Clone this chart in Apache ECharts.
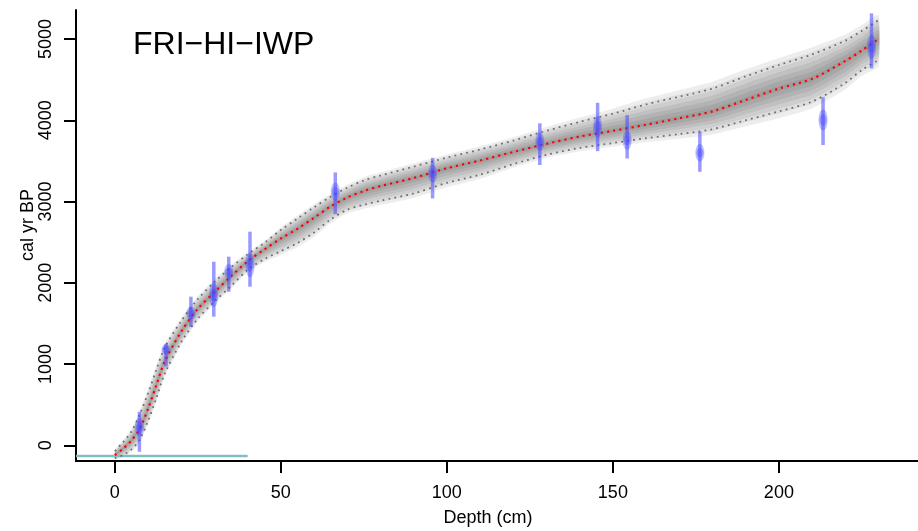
<!DOCTYPE html>
<html>
<head>
<meta charset="utf-8">
<script src="https://cdn.jsdelivr.net/npm/echarts@6/dist/echarts.min.js"></script>
<style>
  html, body { margin: 0; padding: 0; background: #fff; }
  #chart { width: 918px; height: 531px; }
</style>
</head>
<body>
<div id="chart"></div>
<script>
// age-depth model
var depths = [0, 2.5, 5, 7.5, 10, 12.5, 15, 20, 25, 30, 35, 40, 45, 50, 55, 60, 65, 70, 75, 80,
  90, 100, 110, 120, 130, 140, 150, 160, 170, 180, 190, 200, 210, 220, 225, 230];
var meanAge = [-120, -40, 60, 205, 450, 740, 1030, 1400, 1680, 1885, 2080, 2265, 2410, 2545, 2665, 2800, 2940, 3050, 3130, 3190,
  3290, 3410, 3505, 3610, 3710, 3800, 3870, 3945, 4025, 4110, 4250, 4390, 4510, 4730, 4860, 5000];
var upperAge = [-70, 40, 170, 380, 640, 930, 1200, 1530, 1800, 2010, 2190, 2350, 2490, 2650, 2790, 2930, 3060, 3170, 3260, 3320,
  3430, 3540, 3640, 3750, 3870, 3980, 4080, 4195, 4290, 4390, 4540, 4680, 4810, 4980, 5100, 5230];
var lowerAge = [-160, -120, -50, 70, 300, 580, 880, 1270, 1560, 1770, 1960, 2160, 2290, 2390, 2490, 2620, 2780, 2900, 2960, 3010,
  3100, 3230, 3330, 3460, 3575, 3660, 3720, 3780, 3830, 3890, 4000, 4110, 4230, 4460, 4620, 4740];

// calibrated dates
var dateDepth = [7.4, 15.4, 22.9, 29.8, 34.3, 40.7, 66.4, 95.7, 128, 145.4, 154.3, 176.2, 213.3, 227.9];
var dateAge = [225, 1180, 1624, 1850, 2136, 2217, 3120, 3345, 3736, 3920, 3755, 3600, 4003, 4905];
var dateMin = [-79, 970, 1459, 1583, 1890, 1952, 2845, 3038, 3450, 3620, 3530, 3366, 3695, 4638];
var dateMax = [413, 1250, 1829, 2259, 2321, 2629, 3358, 3538, 3963, 4215, 4063, 3858, 4283, 5315];

// surface line
var topLine = [[-11.7, -130], [40, -130]];

var xTicks = [0, 50, 100, 150, 200];
var yTicks = [0, 1000, 2000, 3000, 4000, 5000];
var bandK = [1.3, 1.1, 0.9, 0.7, 0.5, 0.3, 0.12];

var font = 'Liberation Sans, Arial, Helvetica, sans-serif';
var chart = echarts.init(document.getElementById('chart'));

function pairs(ys) {
  return depths.map(function (d, i) { return [d, ys[i]]; });
}

var series = [];

// grey shading, several nested bands
series.push({
  type: 'custom',
  clip: true,
  silent: true,
  data: bandK.map(function (k) { return [0, 0, k]; }),
  renderItem: function (params, api) {
    var k = bandK[params.dataIndex];
    var top = [], bot = [];
    depths.forEach(function (d, i) {
      var m = meanAge[i];
      top.push(api.coord([d, m + k * (upperAge[i] - m)]));
      bot.push(api.coord([d, m - k * (m - lowerAge[i])]));
    });
    return {
      type: 'polygon',
      shape: { points: top.concat(bot.reverse()), smooth: 0.15 },
      style: { fill: 'rgba(0,0,0,0.07)' }
    };
  },
  z: 1
});

series.push({
  type: 'line', data: pairs(upperAge), symbol: 'none', smooth: 0.3, silent: true,
  lineStyle: { color: '#6e6e6e', width: 1.8, type: [1.8, 4.2] }, z: 3
});
series.push({
  type: 'line', data: pairs(lowerAge), symbol: 'none', smooth: 0.3, silent: true,
  lineStyle: { color: '#6e6e6e', width: 1.8, type: [1.8, 4.2] }, z: 3
});
series.push({
  type: 'line', data: pairs(meanAge), symbol: 'none', smooth: 0.3, silent: true,
  lineStyle: { color: '#ff0000', width: 2.2, type: [2.2, 4] }, z: 4
});

series.push({
  type: 'line', data: topLine, symbol: 'none', silent: true,
  lineStyle: { color: '#7fbfbf', width: 2.5 }, z: 2
});

// dates: vertical range plus a blob at the centre
series.push({
  type: 'custom',
  clip: true,
  silent: true,
  data: dateDepth.map(function (d, i) { return [d, dateAge[i], dateMin[i], dateMax[i]]; }),
  renderItem: function (params, api) {
    var c = api.coord([api.value(0), api.value(1)]);
    var lo = api.coord([api.value(0), api.value(2)]);
    var hi = api.coord([api.value(0), api.value(3)]);
    var span = lo[1] - hi[1];
    var col = 'rgba(70,70,255,0.55)';
    return {
      type: 'group',
      children: [
        { type: 'line', shape: { x1: c[0], y1: hi[1], x2: c[0], y2: lo[1] },
          style: { stroke: col, lineWidth: 3.5 } },
        { type: 'ellipse', shape: { cx: c[0], cy: c[1], rx: 4.5, ry: Math.max(5, span * 0.22) },
          style: { fill: 'rgba(70,70,255,0.35)' } },
        { type: 'ellipse', shape: { cx: c[0], cy: c[1], rx: 3.5, ry: Math.max(4, span * 0.12) },
          style: { fill: 'rgba(70,70,255,0.35)' } }
      ]
    };
  },
  z: 5
});

chart.setOption({
  animation: false,
  grid: { left: 76, right: 0, top: 10, bottom: 70, outerBoundsMode: 'none' },
  xAxis: {
    type: 'value', min: -11.7, max: 241.9,
    axisLine: { show: true, onZero: false, lineStyle: { color: '#000', width: 2 } },
    axisTick: { show: true, length: 12, customValues: xTicks, lineStyle: { color: '#000', width: 2 } },
    axisLabel: { customValues: xTicks, fontSize: 18, color: '#000', fontFamily: font, margin: 23 },
    splitLine: { show: false }
  },
  yAxis: {
    type: 'value', min: -193, max: 5357,
    axisLine: { show: true, onZero: false, lineStyle: { color: '#000', width: 2 } },
    axisTick: { show: true, length: 12, customValues: yTicks, lineStyle: { color: '#000', width: 2 } },
    axisLabel: { customValues: yTicks, fontSize: 18, color: '#000', fontFamily: font, rotate: 90, margin: 21,
      formatter: function (v) { return String(v); } },
    splitLine: { show: false }
  },
  graphic: [
    { type: 'text', left: 133, top: 29, style: { text: 'FRI\u2212HI\u2212IWP', fontSize: 32, fontFamily: font, fill: '#000' } },
    { type: 'text', x: 488, y: 518, style: { text: 'Depth (cm)', fontSize: 18, fontFamily: font, fill: '#000', align: 'center', verticalAlign: 'middle' } },
    { type: 'text', x: 28, y: 225, rotation: Math.PI / 2, style: { text: 'cal yr BP', fontSize: 18, fontFamily: font, fill: '#000', align: 'center', verticalAlign: 'middle' } }
  ],
  series: series
});
</script>
</body>
</html>
